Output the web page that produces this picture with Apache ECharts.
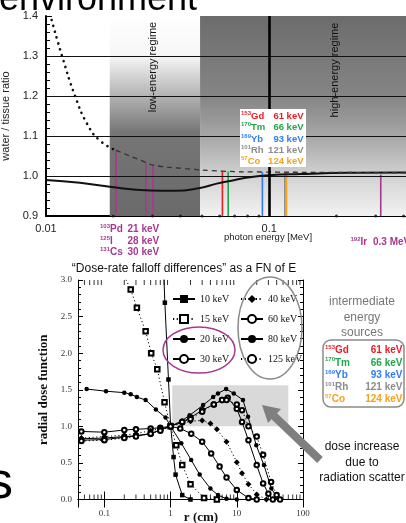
<!DOCTYPE html>
<html>
<head>
<meta charset="utf-8">
<script src="https://cdn.jsdelivr.net/npm/echarts@6/dist/echarts.min.js"></script>
<style>
html, body { margin: 0; padding: 0; background: #fff; }
#chart { width: 406px; height: 523px; }
</style>
</head>
<body>
<div id="chart"></div>
<script>
const sans = '"Liberation Sans", Arial, sans-serif';
const serif = '"Liberation Serif", "Times New Roman", serif';

// ---- top panel: water / tissue ratio vs photon energy [MeV] ----
const solidE = [0.01, 0.0142, 0.0193, 0.0292, 0.0378, 0.0489, 0.0582, 0.0686, 0.0818, 0.1, 0.137, 0.229, 0.41];
const solidR = [0.99, 0.983, 0.973, 0.964, 0.963, 0.970, 0.981, 0.989, 0.997, 1.002, 1.005, 1.008, 1.009];
const dotE = [0.0106, 0.0118, 0.0135, 0.0153, 0.0174, 0.0206];
const dotR = [1.39, 1.30, 1.20, 1.13, 1.089, 1.064];
const dashE = [0.0206, 0.0283, 0.0301, 0.041, 0.062, 0.0935, 0.187, 0.41];
const dashR = [1.064, 1.033, 1.027, 1.019, 1.012, 1.010, 1.009, 1.008];
const energyDots = [0.02, 0.03, 0.04, 0.05, 0.06, 0.07, 0.08, 0.09, 0.2, 0.3, 0.4];
const lowBand = [0.0193, 0.049];
const highBand = [0.049, 0.41];
const ratioLines = [1.0, 1.1, 1.2, 1.3];

// brachy sources: isotope, mass number, energy label, energy (MeV), line top, colour
const srcIso = ['Pd', 'I', 'Cs', 'Gd', 'Tm', 'Yb', 'Rh', 'Co', 'Ir'];
const srcMass = ['103', '125', '131', '153', '170', '169', '101', '57', '192'];
const srcLabel = ['21 keV', '28 keV', '30 keV', '61 keV', '66 keV', '93 keV', '121 keV', '124 keV', '0.3 MeV'];
const srcE = [0.0206, 0.028, 0.0301, 0.0617, 0.0655, 0.0932, 0.1175, 0.1195, 0.316];
const srcTop = [1.062, 1.033, 1.027, 1.012, 1.011, 1.010, 1.010, 1.010, 1.004];
const srcColor = ['#a8388f', '#a8388f', '#a8388f', '#ee1c25', '#22a64b', '#2f7cf6', '#8c8c8c', '#f7a21b', '#a8388f'];

// ---- bottom panel: radial dose function g(r) ----
const keV = ['10 keV', '15 keV', '20 keV', '30 keV', '40 keV', '60 keV', '80 keV', '125 keV'];
const g10 = [[0.78, 3.2], [0.82, 2.69], [0.93, 1.64], [1.0, 1.02], [1.11, 0.58], [1.19, 0.34], [1.5, 0.06], [2, 0]];
const g15 = [[0.2, 3.05], [0.25, 2.87], [0.31, 2.62], [0.42, 2.3], [0.51, 2.0], [0.63, 1.78], [0.81, 1.33], [1.0, 1.0],
  [1.22, 0.74], [1.5, 0.47], [2, 0.21], [3.2, 0.02], [5, 0]];
const g20 = [[0.054, 1.51], [0.106, 1.48], [0.2, 1.46], [0.25, 1.44], [0.31, 1.40], [0.42, 1.36], [0.6, 1.23], [0.84, 1.12],
  [1.0, 1.0], [1.45, 0.77], [2.05, 0.54], [2.75, 0.34], [4, 0.15], [5.2, 0.06], [7, 0.01], [10, 0]];
const g30 = [[0.045, 0.93], [0.1, 0.92], [0.2, 0.95], [0.3, 0.96], [0.5, 0.97], [0.7, 0.98], [1.0, 1.0], [1.4, 0.97],
  [2.05, 0.9], [3, 0.79], [4.1, 0.63], [5.5, 0.45], [7, 0.3], [10, 0.13], [15, 0.02], [20, 0]];
const g40 = [[0.045, 0.84], [0.1, 0.86], [0.2, 0.88], [0.3, 0.9], [0.5, 0.94], [0.7, 0.97], [1, 1.0], [1.5, 1.04], [2, 1.07],
  [3, 1.08], [4, 1.04], [5, 0.96], [7, 0.79], [10, 0.51], [12, 0.36], [15, 0.21], [20, 0.07], [28, 0]];
const g60 = [[0.045, 0.81], [0.1, 0.82], [0.2, 0.85], [0.3, 0.87], [0.5, 0.9], [0.7, 0.95], [1, 1.0], [1.5, 1.06], [2, 1.12],
  [3, 1.22], [4.5, 1.3], [6, 1.36], [7.3, 1.39], [10, 1.24], [12, 1.06], [15, 0.81], [20, 0.47], [25, 0.22], [30, 0.08], [35, 0]];
const g80 = [[0.045, 0.83], [0.1, 0.84], [0.2, 0.86], [0.3, 0.87], [0.5, 0.9], [0.7, 0.95], [1, 1.0], [1.5, 1.08], [1.94, 1.15],
  [3.1, 1.29], [4.4, 1.40], [5.2, 1.45], [6.9, 1.51], [9, 1.45], [12.4, 1.36], [14.8, 1.13], [19.7, 0.74], [25.7, 0.47],
  [33.3, 0.15], [39.7, 0.04], [45, 0]];
const g125 = [[0.045, 0.80], [0.1, 0.81], [0.2, 0.84], [0.3, 0.86], [0.5, 0.9], [0.7, 0.94], [1, 1.0], [1.5, 1.06], [2, 1.1],
  [3, 1.2], [4.5, 1.3], [6, 1.36], [7, 1.36], [10, 1.3], [12, 1.22], [15, 1.0], [20, 0.86], [25, 0.61], [33, 0.24], [40, 0.06], [45, 0]];
const curves = [g10, g15, g20, g30, g40, g60, g80, g125];
const curveSymbol = ['rect', 'emptyRect', 'circle', 'emptyCircle', 'diamond', 'emptyCircle', 'circle', 'emptyCircle'];
const curveDotted = [false, true, false, false, true, false, false, true];
const rMinor = [0.05, 0.06, 0.07, 0.08, 0.09, 0.2, 0.3, 0.4, 0.5, 0.6, 0.7, 0.8, 0.9,
  2, 3, 4, 5, 6, 7, 8, 9, 20, 30, 40, 50, 60, 70, 80, 90];
const scatterBoxR = [1.06, 60];
const scatterBoxG = [1.0, 1.56];

const zip = (xs, ys) => xs.map((x, i) => [x, ys[i]]);

const chart = echarts.init(document.getElementById('chart'));

function txt(x, y, text, style, extra) {
  return Object.assign({
    type: 'text', x: x, y: y, z: 20, silent: true,
    style: Object.assign({ text: text, fill: '#111', font: '11px ' + sans, align: 'left', verticalAlign: 'middle' }, style)
  }, extra || {});
}
function isoText(x, y, i, size) {
  const c = srcColor[i];
  return txt(x, y, '{s|' + srcMass[i] + '}{n|' + srcIso[i] + '}', {
    rich: {
      s: { fontSize: 6, fontFamily: sans, fontWeight: 'bold', fill: c, lineHeight: 8, verticalAlign: 'top' },
      n: { fontSize: size, fontFamily: sans, fontWeight: 'bold', fill: c, lineHeight: 12 }
    }
  });
}
function valText(x, y, i, size, align) {
  return txt(x, y, srcLabel[i], { fill: srcColor[i], font: 'bold ' + size + 'px ' + sans, align: align || 'right' });
}

const graphics = [
  txt(-1, 0, 'environment', { font: '36px ' + sans, fill: '#000' }),
  txt(13, 484, 's', { font: '52px ' + sans, fill: '#000', align: 'right' }),
  txt(153, 67, 'low-energy regime', { font: '11px ' + sans, fill: '#111', align: 'center' }, { rotation: Math.PI / 2 }),
  txt(335, 70, 'high-energy regime', { font: '11px ' + sans, fill: '#111', align: 'center' }, { rotation: Math.PI / 2 }),
  txt(268, 237, 'photon energy [MeV]', { font: '9.5px ' + sans, fill: '#222', align: 'center' }),
  { type: 'rect', z: 15, silent: true, shape: { x: 240, y: 109, width: 66, height: 58 }, style: { fill: '#fff' } },
  txt(184, 269, '\u201cDose-rate falloff differences\u201d as a FN of E', { font: '12px ' + sans, fill: '#111', align: 'center' }),
  txt(201, 518, 'r (cm)', { font: 'bold 13px ' + serif, fill: '#111', align: 'center' }),
  { type: 'ellipse', z: 15, silent: true, shape: { cx: 199, cy: 350, rx: 36, ry: 23 }, style: { fill: 'none', stroke: '#a8388f', lineWidth: 1.5 } },
  { type: 'ellipse', z: 15, silent: true, shape: { cx: 270, cy: 328, rx: 32, ry: 51 }, style: { fill: 'none', stroke: '#8a8a8a', lineWidth: 1.5 } },
  { type: 'line', z: 15, silent: true, shape: { x1: 320, y1: 460, x2: 274, y2: 416 }, style: { stroke: '#7f7f7f', lineWidth: 8 } },
  { type: 'polygon', z: 15, silent: true, shape: { points: [[262, 405], [281, 409], [268, 423]] }, style: { fill: '#7f7f7f' } },
  txt(362, 302, 'intermediate', { font: '12px ' + sans, fill: '#777', align: 'center' }),
  txt(362, 318, 'energy', { font: '12px ' + sans, fill: '#777', align: 'center' }),
  txt(362, 333, 'sources', { font: '12px ' + sans, fill: '#777', align: 'center' }),
  { type: 'rect', z: 15, silent: true, shape: { x: 323, y: 340, width: 81, height: 67, r: 8 }, style: { fill: '#fff', stroke: '#8a8a8a', lineWidth: 1.5 } },
  txt(362, 447, 'dose increase', { font: '12px ' + sans, fill: '#111', align: 'center' }),
  txt(362, 463, 'due to', { font: '12px ' + sans, fill: '#111', align: 'center' }),
  txt(362, 478, 'radiation scatter', { font: '12px ' + sans, fill: '#111', align: 'center' })
];
// purple labels under the top axis
[0, 1, 2].forEach((i, k) => {
  const y = 229.5 + k * 11.5;
  graphics.push(isoText(100, y, i, 10), valText(127.5, y, i, 10, 'left'));
});
graphics.push(isoText(350.5, 242.5, 8, 10), valText(373, 242.5, 8, 10, 'left'));
// legend box inside the top panel and the box at the right
[3, 4, 5, 6, 7].forEach((i, k) => {
  const y1 = 116.5 + k * 11.3;
  graphics.push(isoText(241, y1, i, 9.5), valText(303.5, y1, i, 9.5));
  const y2 = 350.7 + k * 12.1;
  graphics.push(isoText(325, y2, i, 10), valText(402.5, y2, i, 10));
});

const topSeries = [
  {
    type: 'line', data: [], xAxisIndex: 0, yAxisIndex: 0, silent: true,
    markArea: {
      silent: true,
      data: [
        [{ xAxis: lowBand[0], yAxis: 1.4, itemStyle: { color: new echarts.graphic.LinearGradient(0, 0, 0, 1, [
          { offset: 0, color: '#ffffff' }, { offset: 0.2, color: '#f6f6f6' }, { offset: 0.45, color: '#a2a2a2' },
          { offset: 0.58, color: '#767676' }, { offset: 1, color: '#6a6a6a' }]) } },
         { xAxis: lowBand[1], yAxis: 0.9 }],
        [{ xAxis: highBand[0], yAxis: 1.4, itemStyle: { color: new echarts.graphic.LinearGradient(0, 0, 0, 1, [
          { offset: 0, color: '#6c6c6c' }, { offset: 0.4, color: '#858585' }, { offset: 0.6, color: '#a6a6a6' },
          { offset: 0.8, color: '#d2d2d2' }, { offset: 1, color: '#f2f2f2' }]) } },
         { xAxis: highBand[1], yAxis: 0.9 }]
      ]
    }
  },
  {
    type: 'line', data: [], xAxisIndex: 0, yAxisIndex: 0, silent: true,
    markLine: {
      silent: true, symbol: 'none', label: { show: false },
      lineStyle: { color: '#111', width: 1.2, type: 'solid' },
      data: ratioLines.map(v => ({ yAxis: v })).concat([{ xAxis: 0.1, lineStyle: { width: 2.6, color: '#000' } }])
    }
  },
  {
    type: 'line', data: zip(solidE, solidR), xAxisIndex: 0, yAxisIndex: 0, smooth: true, symbol: 'none', z: 4,
    lineStyle: { color: '#111', width: 2 }
  },
  {
    type: 'line', data: zip(dotE, dotR), xAxisIndex: 0, yAxisIndex: 0, smooth: true, symbol: 'none', z: 4,
    lineStyle: { color: '#111', width: 2.6, type: [0.1, 6], cap: 'round' }
  },
  {
    type: 'line', data: zip(dashE, dashR), xAxisIndex: 0, yAxisIndex: 0, smooth: true, symbol: 'none', z: 4,
    lineStyle: { color: '#333', width: 1.3, type: [5, 4] }
  },
  {
    type: 'scatter', data: energyDots.map(e => [e, 0.9]), xAxisIndex: 0, yAxisIndex: 0, symbolSize: 3, z: 4,
    itemStyle: { color: '#111' }, silent: true
  }
].concat(srcE.map((e, i) => ({
  type: 'line', data: [[e, 0.9], [e, srcTop[i]]], xAxisIndex: 0, yAxisIndex: 0, symbol: 'none', z: 3,
  lineStyle: { color: srcColor[i], width: 1.6 }
})));

const bottomSeries = curves.map((d, i) => ({
  name: keV[i], type: 'line', data: d, xAxisIndex: 1, yAxisIndex: 1,
  symbol: curveSymbol[i], symbolSize: curveSymbol[i] === 'diamond' ? 6 : 4.5, z: 5,
  itemStyle: { color: '#000' },
  lineStyle: { color: '#000', width: 1, type: curveDotted[i] ? [1.2, 2.5] : 'solid' }
})).concat([
  {
    type: 'line', data: [], xAxisIndex: 1, yAxisIndex: 1, silent: true,
    markArea: {
      silent: true, itemStyle: { color: '#d9d9d9' },
      data: [[{ xAxis: scatterBoxR[0], yAxis: scatterBoxG[0] }, { xAxis: scatterBoxR[1], yAxis: scatterBoxG[1] }]]
    }
  },
  {
    type: 'scatter', data: rMinor.map(r => [r, 0]), xAxisIndex: 1, yAxisIndex: 1, silent: true,
    symbol: 'rect', symbolSize: [1, 5], symbolOffset: [0, -2.5], itemStyle: { color: '#000' }
  },
  {
    type: 'scatter', data: rMinor.map(r => [r, 3]), xAxisIndex: 1, yAxisIndex: 1, silent: true,
    symbol: 'rect', symbolSize: [1, 5], symbolOffset: [0, 2.5], itemStyle: { color: '#000' }
  }
]);

const legendBase = {
  orient: 'vertical', top: 294, padding: 0, itemGap: 10, itemWidth: 22, itemHeight: 10,
  textStyle: { fontFamily: serif, fontSize: 10, color: '#111' }, selectedMode: false
};

const option = {
  animation: false,
  backgroundColor: '#fff',
  grid: [
    { left: 46, right: 0, top: 16, bottom: 307, outerBoundsMode: 'none' },
    { left: 78, right: 103, top: 280, bottom: 23.5, outerBoundsMode: 'none' }
  ],
  xAxis: [
    {
      type: 'log', gridIndex: 0, min: 0.01, max: 0.41,
      axisLine: { lineStyle: { color: '#000', width: 2 } },
      axisTick: { show: false },
      axisLabel: { color: '#222', fontFamily: sans, fontSize: 11, margin: 7, showMaxLabel: false },
      splitLine: { show: false }
    },
    {
      type: 'log', gridIndex: 1, min: 0.04, max: 100,
      axisLine: { lineStyle: { color: '#000', width: 1 } },
      axisTick: { inside: true, length: 8, lineStyle: { color: '#000' } },
      axisLabel: { color: '#333', fontFamily: serif, fontSize: 9, margin: 10, showMinLabel: false },
      splitLine: { show: false }
    },
    {
      type: 'log', gridIndex: 1, min: 0.04, max: 100, position: 'top',
      axisLine: { lineStyle: { color: '#000', width: 1 } },
      axisTick: { inside: true, length: 8, lineStyle: { color: '#000' } },
      axisLabel: { show: false }, splitLine: { show: false }
    }
  ],
  yAxis: [
    {
      type: 'value', gridIndex: 0, min: 0.9, max: 1.4, interval: 0.1,
      name: 'water / tissue ratio', nameLocation: 'middle', nameGap: 29,
      nameTextStyle: { color: '#222', fontFamily: sans, fontSize: 11 },
      axisLine: { show: true, lineStyle: { color: '#000', width: 2 } },
      axisTick: { show: true, inside: true, length: 6, lineStyle: { color: '#000' } },
      minorTick: { show: true, splitNumber: 5, length: 4, lineStyle: { color: '#000' } },
      axisLabel: { color: '#222', fontFamily: sans, fontSize: 11, margin: 8, formatter: v => v.toFixed(1) },
      splitLine: { show: false }
    },
    {
      type: 'value', gridIndex: 1, min: 0, max: 3, interval: 0.5,
      name: 'radial dose function', nameLocation: 'middle', nameGap: 27,
      nameTextStyle: { color: '#111', fontFamily: serif, fontSize: 13, fontWeight: 'bold' },
      axisLine: { show: true, lineStyle: { color: '#000', width: 1 } },
      axisTick: { show: true, inside: true, length: 5, lineStyle: { color: '#000' } },
      minorTick: { show: true, splitNumber: 5, length: 3, lineStyle: { color: '#000' } },
      axisLabel: { color: '#333', fontFamily: serif, fontSize: 9, margin: 6, formatter: v => v.toFixed(1) },
      splitLine: { show: false }
    },
    {
      type: 'value', gridIndex: 1, min: 0, max: 3, interval: 0.5, position: 'right',
      axisLine: { show: true, lineStyle: { color: '#000', width: 1 } },
      axisTick: { show: true, inside: true, length: 5, lineStyle: { color: '#000' } },
      minorTick: { show: true, splitNumber: 5, length: 3, lineStyle: { color: '#000' } },
      axisLabel: { show: false }, splitLine: { show: false }
    }
  ],
  legend: [
    Object.assign({ left: 172, data: keV.slice(0, 4) }, legendBase),
    Object.assign({ left: 240, data: keV.slice(4) }, legendBase)
  ],
  series: topSeries.concat(bottomSeries),
  graphic: { elements: graphics }
};

chart.setOption(option);
</script>
</body>
</html>
